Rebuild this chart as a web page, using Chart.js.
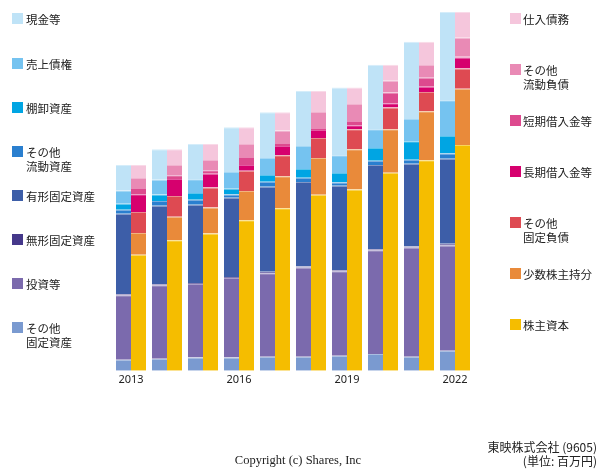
<!DOCTYPE html>
<html>
<head>
<meta charset="utf-8">
<script src="https://cdn.jsdelivr.net/npm/chart.js@4/dist/chart.umd.min.js"></script>
<style>
  html, body { margin: 0; padding: 0; background: #fff; }
  #wrap { position: relative; width: 600px; height: 470px; overflow: hidden; }
  #c { position: absolute; left: 0; top: 0; }
  .lg { position: absolute; font-family: "Noto Sans CJK JP", "Noto Sans", sans-serif; font-size: 11.5px; line-height: 14px; color: #222; white-space: nowrap; }
  .sq { position: absolute; width: 11px; height: 11px; }
  .ft { position: absolute; font-size: 12px; color: #222; white-space: nowrap; }
</style>
</head>
<body>
<div id="wrap">
  <canvas id="c" width="600" height="470"></canvas>
  <div id="legend"></div>
  <div class="ft" style="left:0; width:596px; text-align:center; top:453px; font-family:'Liberation Serif','Times New Roman',serif; font-size:12.5px;">Copyright (c) Shares, Inc</div>
  <div class="ft" style="right:3px; top:440px; text-align:right; font-family:'Noto Sans CJK JP','Noto Sans',sans-serif; line-height:14px;">東映株式会社 (9605)<br>(単位: 百万円)</div>
</div>
<script>
// categories
const years = ["2013","2014","2015","2016","2017","2018","2019","2020","2021","2022"];

// assets (百万円)
const otherFixedAssets = [22000, 24000, 26600, 26600, 28000, 28000, 30000, 33400, 28000, 40000];
const investments      = [128600, 146600, 146800, 158800, 166600, 178000, 168600, 207200, 218000, 210000];
const intangibles      = [2000, 2000, 2000, 2000, 3000, 2000, 2000, 2000, 2000, 3400];
const tangibles        = [160800, 156800, 156000, 158000, 169800, 168600, 168800, 168000, 165400, 170000];
const otherCurAssets   = [8000, 9200, 10000, 6600, 10000, 8800, 6600, 8800, 8000, 10000];
const inventories      = [12000, 13400, 13200, 11400, 13200, 17200, 18600, 25200, 36600, 35200];
const receivables      = [26600, 29400, 27400, 33200, 34000, 46000, 35400, 37400, 44600, 71400];
const cash             = [50600, 60600, 70600, 89400, 91400, 110000, 135400, 128600, 154000, 176000];

// liabilities & equity (百万円)
const equity           = [231400, 260600, 274000, 300600, 324600, 351400, 362000, 395400, 420000, 450600];
const minority         = [43400, 46800, 52000, 58000, 63400, 73200, 80000, 86600, 98000, 112000];
const otherFixedLiab   = [42000, 41200, 40000, 40800, 42000, 40000, 40000, 43400, 38600, 40800];
const longTermDebt     = [35400, 34000, 27400, 11200, 18600, 16000, 8000, 8600, 10000, 22000];
const shortTermDebt    = [12600, 7400, 6600, 16000, 6000, 4000, 8600, 21400, 18000, 1400];
const otherCurLiab     = [20000, 20600, 20600, 26000, 24800, 32000, 34000, 23200, 25400, 38000];
const payables         = [26000, 31400, 32000, 33400, 36600, 42000, 32800, 32000, 46600, 51400];

const yMax = 716000;

function lighten(hex, f) {
  const n = parseInt(hex.slice(1), 16);
  const r = (n >> 16) & 255, g = (n >> 8) & 255, b = n & 255;
  const m = v => Math.round(v + (255 - v) * f);
  return `rgb(${m(r)},${m(g)},${m(b)})`;
}

const assetSeries = [
  ["その他\n固定資産", otherFixedAssets, "#7a9ad0"],
  ["投資等", investments, "#7b6aad"],
  ["無形固定資産", intangibles, "#45388a"],
  ["有形固定資産", tangibles, "#3d5ea8"],
  ["その他\n流動資産", otherCurAssets, "#2a7fcf"],
  ["棚卸資産", inventories, "#00a5e3"],
  ["売上債権", receivables, "#75c3f0"],
  ["現金等", cash, "#bfe3f7"]
];
const liabSeries = [
  ["株主資本", equity, "#f5bd00"],
  ["少数株主持分", minority, "#e98a3a"],
  ["その他\n固定負債", otherFixedLiab, "#de4a52"],
  ["長期借入金等", longTermDebt, "#d6006e"],
  ["短期借入金等", shortTermDebt, "#dd4a8e"],
  ["その他\n流動負債", otherCurLiab, "#e98ab5"],
  ["仕入債務", payables, "#f5c6dc"]
];

const datasets = [];
assetSeries.forEach(([label, data, color]) => datasets.push({
  label, data, backgroundColor: color, borderColor: lighten(color, 0.35),
  borderWidth: {top: 1, left: 0, right: 0, bottom: 0}, borderSkipped: false, stack: "assets"
}));
liabSeries.forEach(([label, data, color]) => datasets.push({
  label, data, backgroundColor: color, borderColor: lighten(color, 0.35),
  borderWidth: {top: 1, left: 0, right: 0, bottom: 0}, borderSkipped: false, stack: "liab"
}));

new Chart(document.getElementById("c"), {
  type: "bar",
  data: { labels: years, datasets },
  options: {
    responsive: false,
    animation: false,
    devicePixelRatio: 1,
    categoryPercentage: 30 / 36,
    barPercentage: 1.0,
    layout: { padding: { left: 113, right: 127, top: 12, bottom: 82 } },
    plugins: { legend: { display: false }, tooltip: { enabled: false }, title: { display: false } },
    scales: {
      x: {
        stacked: true,
        grid: { display: false, drawTicks: false },
        border: { display: false },
        ticks: {
          autoSkip: false, maxRotation: 0, padding: 2, color: "#222",
          font: { family: "'Noto Sans', sans-serif", size: 11 },
          callback: function(v, i) { return i % 3 === 0 ? years[i] : ""; }
        }
      },
      y: { stacked: true, display: false, min: 0, max: yMax }
    }
  }
});

// legends as HTML text
const leftLegend = [
  ["現金等", "#bfe3f7", 13], ["売上債権", "#75c3f0", 58], ["棚卸資産", "#00a5e3", 102],
  ["その他<br>流動資産", "#2a7fcf", 146], ["有形固定資産", "#3d5ea8", 190], ["無形固定資産", "#45388a", 234],
  ["投資等", "#7b6aad", 278], ["その他<br>固定資産", "#7a9ad0", 322]
];
const rightLegend = [
  ["仕入債務", "#f5c6dc", 13], ["その他<br>流動負債", "#e98ab5", 64], ["短期借入金等", "#dd4a8e", 115],
  ["長期借入金等", "#d6006e", 166], ["その他<br>固定負債", "#de4a52", 217], ["少数株主持分", "#e98a3a", 268],
  ["株主資本", "#f5bd00", 319]
];
const lg = document.getElementById("legend");
function addItem(text, color, top, sx, tx) {
  const s = document.createElement("div");
  s.className = "sq"; s.style.left = sx + "px"; s.style.top = top + "px"; s.style.background = color;
  lg.appendChild(s);
  const t = document.createElement("div");
  t.className = "lg"; t.style.left = tx + "px"; t.style.top = (top - 1.5) + "px"; t.innerHTML = text;
  lg.appendChild(t);
}
leftLegend.forEach(([t, c, y]) => addItem(t, c, y, 12, 26));
rightLegend.forEach(([t, c, y]) => addItem(t, c, y, 510, 523));
</script>
</body>
</html>
